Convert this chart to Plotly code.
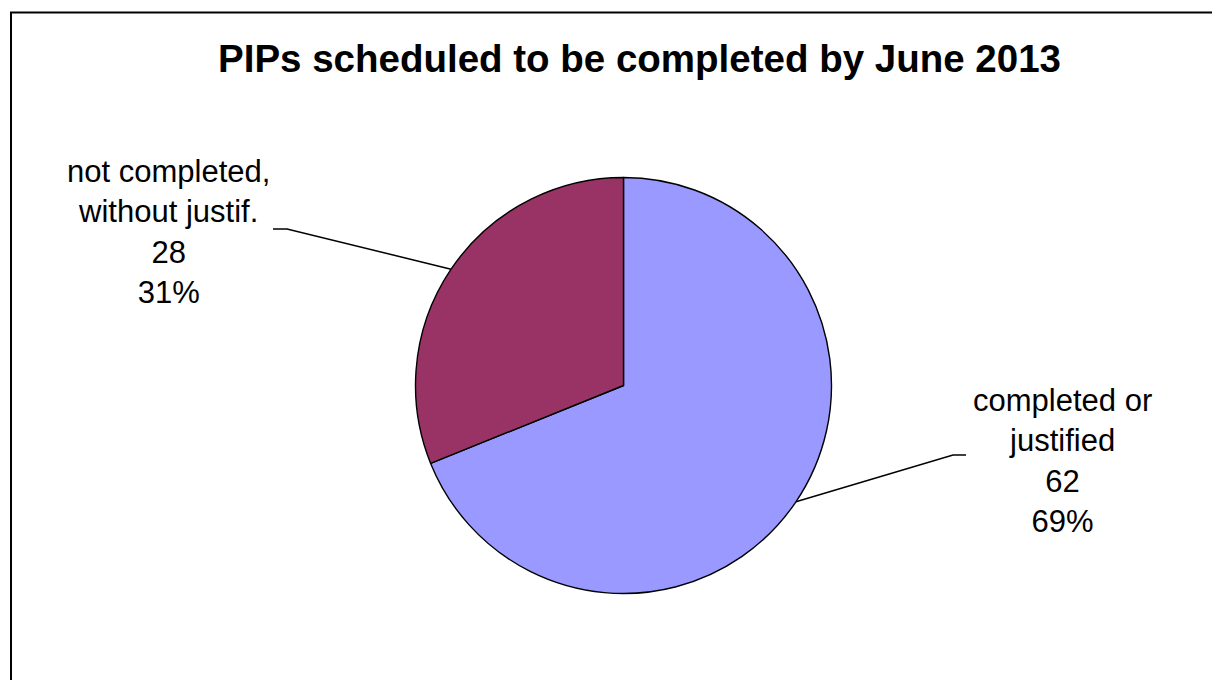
import math
import plotly.graph_objects as go

# Data
categories = ["completed or justified", "not completed, without justif."]
label_lines = [["completed or", "justified"], ["not completed,", "without justif."]]
counts = [62, 28]
colors = ["#9999FF", "#993366"]
title_text = "PIPs scheduled to be completed by June 2013"

# Canvas and layout geometry (pixels)
W, H = 1212, 680
cx, cy, R = 623.5, 385.5, 208.0
FONT = "Arial, Liberation Sans, sans-serif"

# Label block centres and leader-line elbows for each slice
label_pos = [(1062, 461), (168, 232)]
elbows = [[(953, 455), (966, 455)], [(287, 229), (273, 229)]]


def px(x):
    return x / W


def py(y):
    return 1 - y / H


fig = go.Figure(
    go.Pie(
        labels=categories,
        values=counts,
        marker=dict(colors=colors, line=dict(color="black", width=1.4)),
        sort=False,
        direction="clockwise",
        rotation=0,
        textinfo="none",
        hoverinfo="label+value+percent",
        showlegend=False,
        domain=dict(x=[px(cx - R), px(cx + R)], y=[py(cy + R), py(cy - R)]),
    )
)

total = sum(counts)
shapes = []
annotations = []
cum = 0
for i, v in enumerate(counts):
    theta = 2 * math.pi * (cum + v / 2) / total
    cum += v
    ex, ey = cx + R * math.sin(theta), cy - R * math.cos(theta)
    pts = [(ex, ey)] + elbows[i]
    path = "M " + " L ".join(f"{px(x)},{py(y)}" for x, y in pts)
    shapes.append(dict(type="path", xref="paper", yref="paper", path=path,
                       line=dict(color="black", width=1.5)))
    pct = round(100 * v / total)
    text = "<br>".join(label_lines[i] + [str(v), f"{pct}%"])
    lx, ly = label_pos[i]
    annotations.append(dict(x=px(lx), y=py(ly), xref="paper", yref="paper",
                            text=text, showarrow=False, xanchor="center",
                            yanchor="middle", align="center",
                            font=dict(family=FONT, size=31, color="black")))

# Title
annotations.append(dict(x=px(640), y=py(58), xref="paper", yref="paper",
                        text=f"<b>{title_text}</b>", showarrow=False,
                        xanchor="center", yanchor="middle",
                        font=dict(family=FONT, size=38.5, color="black")))

# Chart-area frame
shapes.append(dict(type="rect", xref="paper", yref="paper",
                   x0=px(11), y0=py(12.5), x1=px(1230), y1=py(700),
                   line=dict(color="black", width=2), fillcolor="rgba(0,0,0,0)"))

fig.update_layout(
    width=W, height=H,
    margin=dict(l=0, r=0, t=0, b=0),
    paper_bgcolor="white",
    plot_bgcolor="white",
    shapes=shapes,
    annotations=annotations,
)

fig.write_html("out.html")
